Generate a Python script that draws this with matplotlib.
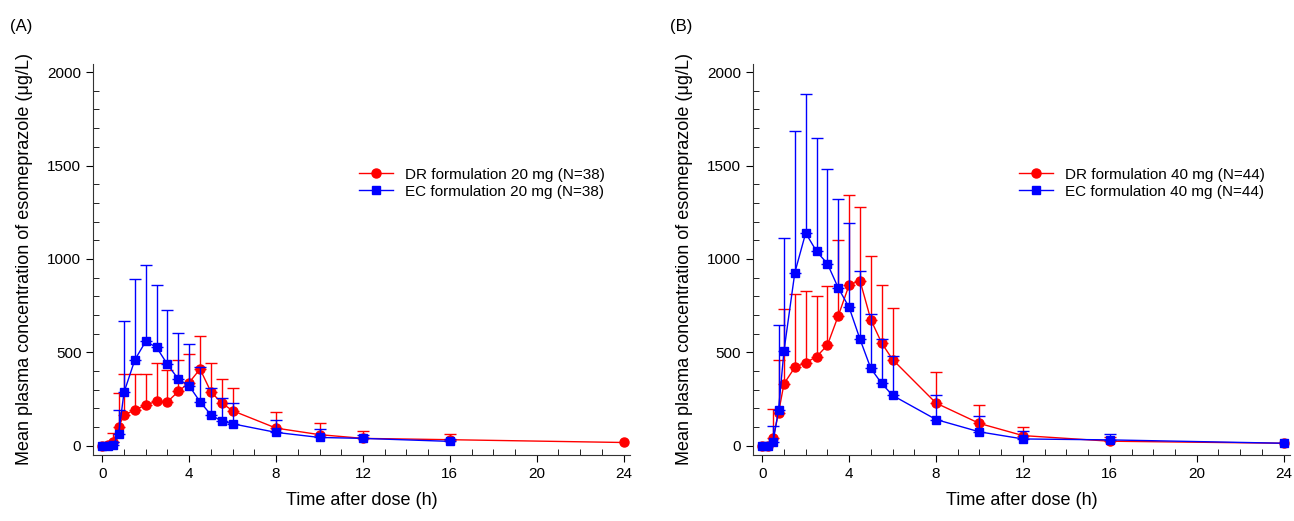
import numpy as np
import matplotlib.pyplot as plt
from matplotlib.ticker import MultipleLocator

plt.rcParams['font.family'] = ['Liberation Sans', 'DejaVu Sans']

# sampling times (h)
t = [0, 0.25, 0.5, 0.75, 1, 1.5, 2, 2.5, 3, 3.5, 4, 4.5, 5, 5.5, 6, 8, 10, 12, 16, 24]

# panel A: 20 mg
dr20_mean = [0, 2, 21, 102, 164, 193, 218, 239, 236, 291, 339, 411, 289, 229, 188, 95, 60, 40, 33, 18]
dr20_sd = [0, 0, 50, 180, 220, 191, 169, 202, 168, 170, 154, 178, 157, 130, 123, 84, 60, 37, 28, 0]
ec20_mean = [0, 0, 5, 62, 286, 461, 559, 527, 436, 357, 321, 236, 166, 132, 118, 72, 45, 40, 24]
ec20_sd = [0, 0, 13, 131, 380, 434, 409, 334, 291, 247, 222, 184, 141, 123, 109, 67, 44, 20, 11]

# panel B: 40 mg
dr40_mean = [0, 0, 41, 177, 332, 420, 445, 477, 539, 696, 861, 884, 675, 550, 462, 229, 120, 55, 25, 14]
dr40_sd = [0, 0, 154, 285, 402, 393, 385, 327, 316, 408, 482, 395, 341, 311, 276, 166, 100, 48, 21, 0]
ec40_mean = [0, 0, 23, 191, 507, 927, 1139, 1041, 975, 845, 741, 571, 414, 334, 270, 141, 75, 37, 32, 14]
ec40_sd = [0, 0, 82, 457, 607, 759, 745, 609, 509, 478, 452, 365, 293, 239, 209, 132, 85, 45, 32, 0]

panels = [
    ('(A)', dr20_mean, dr20_sd, ec20_mean, ec20_sd, '20 mg (N=38)'),
    ('(B)', dr40_mean, dr40_sd, ec40_mean, ec40_sd, '40 mg (N=44)'),
]


def draw(ax, mean, sd, color, marker, ms, label):
    x = np.array(t[:len(mean)])
    m = np.array(mean, dtype=float)
    s = np.array(sd, dtype=float)
    keep = s > 0
    # upper SD bars only
    ax.errorbar(x[keep], m[keep], yerr=[np.zeros(keep.sum()), s[keep]], fmt='none',
                ecolor=color, elinewidth=1, capsize=4.5, capthick=1)
    ax.plot(x, m, color=color, marker=marker, markersize=ms, linewidth=1, label=label)


fig = plt.figure(figsize=(12.94, 5.21), dpi=100)
lefts = [0.072, 0.582]

for (tag, drm, drs, ecm, ecs, lab), left in zip(panels, lefts):
    ax = fig.add_axes([left, 0.127, 0.415, 0.75])
    draw(ax, drm, drs, '#ff0000', 'o', 6.5, 'DR formulation ' + lab)
    draw(ax, ecm, ecs, '#0000ff', 's', 6, 'EC formulation ' + lab)

    ax.set_xlim(-0.42, 24.3)
    ax.set_ylim(-48, 2043)
    ax.xaxis.set_major_locator(MultipleLocator(4))
    ax.xaxis.set_minor_locator(MultipleLocator(1))
    ax.yaxis.set_major_locator(MultipleLocator(500))
    ax.yaxis.set_minor_locator(MultipleLocator(100))
    ax.tick_params(which='major', direction='out', length=5, labelsize=11)
    ax.tick_params(which='minor', direction='in', length=4)
    for s in ['top', 'right']:
        ax.spines[s].set_visible(False)
    for s in ['left', 'bottom']:
        ax.spines[s].set_color('#333333')

    ax.set_xlabel('Time after dose (h)', fontsize=13, labelpad=8)
    ax.set_ylabel('Mean plasma concentration of esomeprazole (μg/L)', fontsize=13, labelpad=10)
    ax.legend(loc='upper left', bbox_to_anchor=(0.47, 0.77), frameon=False,
              fontsize=11, handlelength=2.2, labelspacing=0.2)
    fig.text(left - 0.064, 0.95, tag, fontsize=12, ha='left', va='center')

fig.savefig('out.png', dpi=100)
